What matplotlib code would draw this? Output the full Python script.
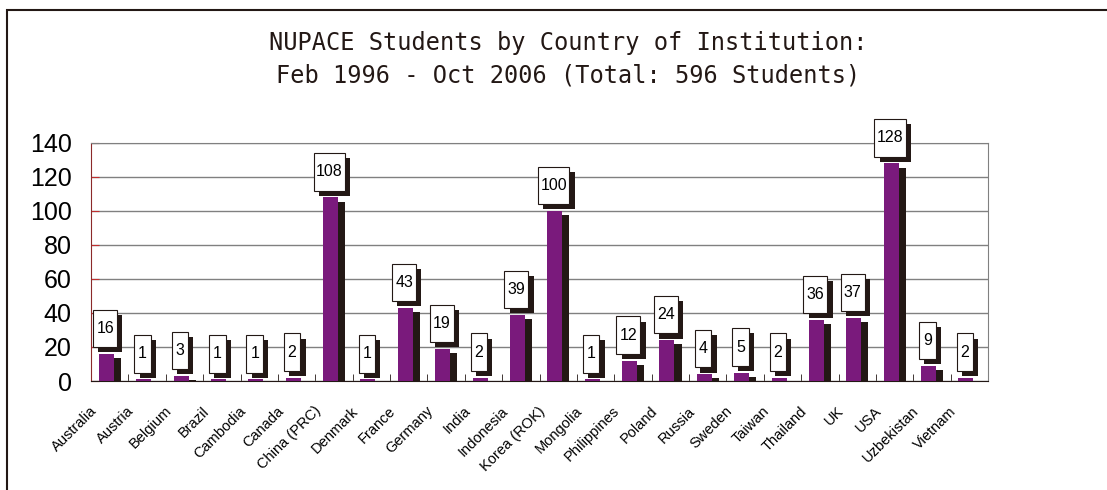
import matplotlib.pyplot as plt
import matplotlib.patches as mpatches
import numpy as np
from matplotlib.transforms import ScaledTranslation

countries = ['Australia', 'Austria', 'Belgium', 'Brazil', 'Cambodia', 'Canada',
             'China (PRC)', 'Denmark', 'France', 'Germany', 'India', 'Indonesia',
             'Korea (ROK)', 'Mongolia', 'Philippines', 'Poland', 'Russia', 'Sweden',
             'Taiwan', 'Thailand', 'UK', 'USA', 'Uzbekistan', 'Vietnam']
students = [16, 1, 3, 1, 1, 2, 108, 1, 43, 19, 2, 39, 100, 1, 12, 24, 4, 5, 2,
            36, 37, 128, 9, 2]
y_ticks = [0, 20, 40, 60, 80, 100, 120, 140]

title = 'NUPACE Students by Country of Institution:\nFeb 1996 - Oct 2006 (Total: 596 Students)'

purple = '#7a1a7c'
shadow = '#231815'

fig = plt.figure(figsize=(11.07, 4.9), dpi=100)
# outer chart frame (only top and left edges are visible)
fig.patches.append(mpatches.Rectangle((7 / 1107, -0.1), 1.2, 1.08,
                                      transform=fig.transFigure, fill=False,
                                      edgecolor=shadow, lw=1.5))

ax = fig.add_axes([91 / 1107, 109 / 490, 897 / 1107, 238 / 490])
n = len(students)
x = np.arange(n)
vals = np.array(students, dtype=float)

bx = x - 0.09
ax.bar(bx + 0.19, np.clip(vals - 2.5, 0, None), width=0.4, color=shadow, zorder=2)
ax.bar(bx, vals, width=0.4, color=purple, zorder=3)

# value boxes with drop shadow
box_w = {1: 0.44, 2: 0.64, 3: 0.84}
for xi, v in zip(bx, students):
    w = box_w[len(str(v))]
    h = 22
    b = v + 4
    cx = xi - 0.03
    ax.add_patch(mpatches.Rectangle((cx - w / 2 + 0.14, b - 3), w, h, facecolor=shadow,
                                    edgecolor='none', zorder=4, clip_on=False))
    ax.add_patch(mpatches.Rectangle((cx - w / 2, b), w, h, facecolor='white',
                                    edgecolor=shadow, lw=0.8, zorder=5, clip_on=False))
    ax.text(cx, b + h / 2, str(v), ha='center', va='center', fontsize=11.5,
            family='Liberation Sans', zorder=6, clip_on=False)

ax.set_xlim(-0.5, n - 0.5)
ax.set_ylim(0, 140)
ax.set_yticks(y_ticks)
ax.set_yticklabels([str(t) for t in y_ticks], family='Liberation Sans', fontsize=18)
ax.yaxis.grid(True, color='#808080', lw=1, zorder=0)
ax.set_axisbelow(True)
ax.tick_params(axis='y', direction='in', length=6, color='#c03030', pad=14)

ax.set_xticks(x)
ax.set_xticklabels([])
ax.set_xticks(np.arange(n - 1) + 0.5, minor=True)
ax.tick_params(axis='x', which='major', length=0)
ax.tick_params(axis='x', which='minor', direction='in', length=5, color=shadow)

off = ScaledTranslation(-11 / 72, -20 / 72, fig.dpi_scale_trans)
for xi, name in zip(x, countries):
    ax.text(xi, 0, name, transform=ax.get_xaxis_transform() + off, rotation=45,
            rotation_mode='anchor', ha='right', va='center', fontsize=10.5,
            family='Liberation Sans')

ax.spines['top'].set_color('#808080')
ax.spines['right'].set_color('#808080')
ax.spines['left'].set_color('#8b2a2a')
ax.spines['bottom'].set_color(shadow)

fig.text(0.513, 0.879, title, ha='center', va='center', fontsize=17,
         family='DejaVu Sans Mono', linespacing=1.4, color=shadow)

fig.savefig('out.png', dpi=100)
